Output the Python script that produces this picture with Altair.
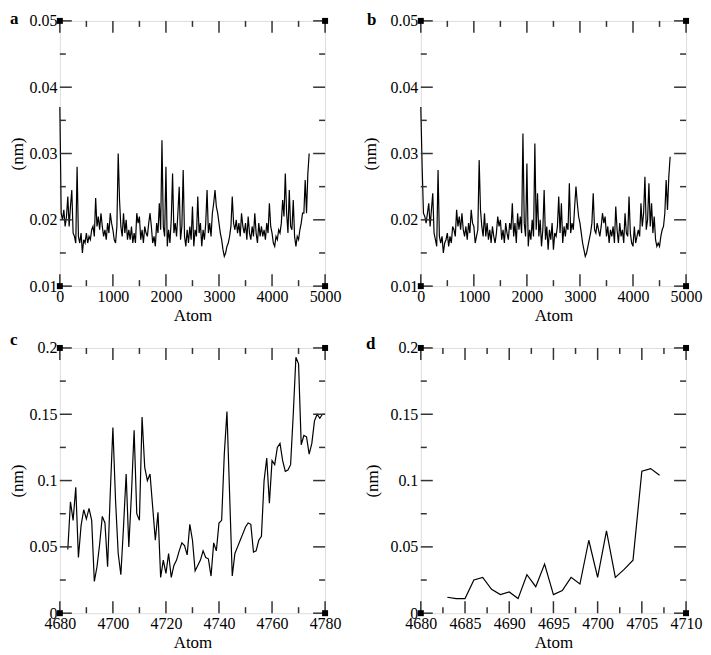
import altair as alt
import pandas as pd

# ---------------- data ----------------
# panels a and b: one value every 25 atoms, from atom 0 to 4700
A_Y = [
    0.037, 0.021, 0.020, 0.0215,  0.019, 0.0205, 0.0235, 0.019,
    0.022, 0.0245, 0.018, 0.0175,  0.0165, 0.028, 0.0175, 0.0165,
    0.018, 0.015, 0.017, 0.0165,  0.018, 0.0165, 0.0175, 0.017,
    0.0185, 0.019, 0.0175, 0.0233,  0.019, 0.0205, 0.0185, 0.021,
    0.019, 0.0175, 0.0185, 0.017,  0.0195, 0.018, 0.021, 0.0195,
    0.0185, 0.017, 0.0165, 0.019,  0.030, 0.023, 0.019, 0.0175,
    0.021, 0.018, 0.020, 0.017,  0.0185, 0.017, 0.019, 0.0165,
    0.018, 0.0165, 0.021, 0.0195,  0.0205, 0.017, 0.0185, 0.0165,
    0.019, 0.018, 0.0175, 0.0195,  0.021, 0.019, 0.0165, 0.0175,
    0.016, 0.0195, 0.018, 0.0225,  0.0185, 0.032, 0.019, 0.0175,
    0.028, 0.016, 0.0185, 0.0165,  0.020, 0.027, 0.018, 0.0195,
    0.0175, 0.021, 0.025, 0.017,  0.019, 0.0275, 0.0175, 0.016,
    0.0185, 0.0165, 0.019, 0.017,  0.022, 0.016, 0.0185, 0.0175,
    0.0235, 0.018, 0.0195, 0.016,  0.0185, 0.017, 0.0195, 0.0245,
    0.018, 0.0195, 0.0175, 0.021,  0.0225, 0.0245, 0.022, 0.021,
    0.0195, 0.018, 0.017, 0.0155,  0.0145, 0.015, 0.016, 0.0165,
    0.0175, 0.019, 0.0235, 0.0195,  0.0185, 0.020, 0.018, 0.0195,
    0.0175, 0.021, 0.019, 0.018,  0.0195, 0.017, 0.0205, 0.018,
    0.017, 0.019, 0.0175, 0.021,  0.018, 0.0165, 0.0195, 0.0175,
    0.019, 0.0175, 0.0185, 0.017,  0.0195, 0.018, 0.0225, 0.019,
    0.018, 0.0165, 0.016, 0.0175,  0.017, 0.0185, 0.018, 0.0195,
    0.023, 0.0205, 0.027, 0.021,  0.018, 0.0245, 0.019, 0.0185,
    0.023, 0.0175, 0.016, 0.0175,  0.017, 0.0185, 0.0195, 0.021,
    0.021, 0.026, 0.021, 0.027,  0.030,
]
B_Y = [
    0.037, 0.028, 0.021, 0.0205,  0.0195, 0.021, 0.0225, 0.019,
    0.0215, 0.024, 0.018, 0.017,  0.016, 0.0275, 0.0175, 0.0165,
    0.0175, 0.015, 0.0165, 0.017,  0.018, 0.016, 0.0175, 0.0165,
    0.019, 0.0185, 0.0175, 0.0215,  0.019, 0.0205, 0.0185, 0.021,
    0.0185, 0.0175, 0.019, 0.017,  0.0195, 0.018, 0.0215, 0.0195,
    0.019, 0.0165, 0.0175, 0.0185,  0.029, 0.0215, 0.019, 0.0175,
    0.021, 0.0175, 0.0195, 0.017,  0.0185, 0.0165, 0.019, 0.0175,
    0.0165, 0.018, 0.0205, 0.019,  0.020, 0.017, 0.0185, 0.0165,
    0.0195, 0.018, 0.017, 0.0195,  0.0185, 0.0225, 0.0175, 0.0195,
    0.0165, 0.021, 0.0185, 0.0205,  0.018, 0.033, 0.0195, 0.0175,
    0.0285, 0.016, 0.0185, 0.017,  0.020, 0.0175, 0.0315, 0.0185,
    0.024, 0.0175, 0.020, 0.016,  0.0185, 0.0245, 0.017, 0.019,
    0.0155, 0.0185, 0.017, 0.0195,  0.0155, 0.018, 0.0175, 0.019,
    0.0235, 0.018, 0.0225, 0.0165,  0.019, 0.0175, 0.0195, 0.0185,
    0.0255, 0.018, 0.0195, 0.0185,  0.022, 0.025, 0.0225, 0.0205,
    0.0195, 0.018, 0.0165, 0.0155,  0.0145, 0.015, 0.016, 0.017,
    0.018, 0.0195, 0.024, 0.0185,  0.018, 0.0195, 0.0185, 0.0175,
    0.019, 0.021, 0.0195, 0.0205,  0.0175, 0.019, 0.0165, 0.0185,
    0.0175, 0.019, 0.0165, 0.022,  0.0185, 0.0165, 0.0195, 0.0175,
    0.0185, 0.0165, 0.021, 0.018,  0.0175, 0.0235, 0.018, 0.0165,
    0.016, 0.019, 0.0165, 0.0175,  0.0185, 0.0175, 0.0225, 0.019,
    0.021, 0.0265, 0.0185, 0.020,  0.0255, 0.019, 0.0225, 0.018,
    0.0205, 0.017, 0.016, 0.0165,  0.016, 0.0175, 0.0185, 0.019,
    0.021, 0.026, 0.0215, 0.0265,  0.0295,
]
A_X = [25 * i for i in range(len(A_Y))]
B_X = [25 * i for i in range(len(B_Y))]

C_Y = [
    0.048, 0.084, 0.070, 0.095, 0.042, 0.066, 0.078, 0.071, 0.079, 0.070,
    0.024, 0.035, 0.052, 0.073, 0.068, 0.035, 0.090, 0.140, 0.085, 0.045,
    0.029, 0.065, 0.105, 0.050, 0.090, 0.138, 0.075, 0.070, 0.148, 0.110,
    0.100, 0.105, 0.080, 0.055, 0.076, 0.027, 0.040, 0.030, 0.045, 0.027,
    0.036, 0.040, 0.047, 0.053, 0.051, 0.044, 0.067, 0.055, 0.032, 0.036,
    0.040, 0.047, 0.042, 0.041, 0.028, 0.053, 0.047, 0.068, 0.070, 0.120,
    0.152, 0.090, 0.028, 0.045, 0.050, 0.055, 0.060, 0.065, 0.068, 0.067,
    0.046, 0.047, 0.055, 0.058, 0.100, 0.117, 0.083, 0.115, 0.112, 0.125,
    0.128, 0.115, 0.107, 0.108, 0.112, 0.150, 0.193, 0.188, 0.127, 0.134,
    0.133, 0.120, 0.128, 0.145, 0.150, 0.147, 0.150, 0.150,
]
C_X = [4683 + i for i in range(len(C_Y))]

D_Y = [
    0.012, 0.011, 0.011, 0.025, 0.027, 0.018, 0.014, 0.016, 0.011, 0.029,
    0.020, 0.037, 0.014, 0.017, 0.027, 0.022, 0.055, 0.027, 0.062, 0.027,
    0.033, 0.040, 0.107, 0.109, 0.104,
]
D_X = [4683 + i for i in range(len(D_Y))]

# axis tick values
AB_XMAJ = [0, 1000, 2000, 3000, 4000, 5000]
AB_XMIN = [500, 1500, 2500, 3500, 4500]
AB_YMAJ = [0.01, 0.02, 0.03, 0.04, 0.05]
AB_YMIN = [0.015, 0.025, 0.035, 0.045]
C_XMAJ = [4680, 4700, 4720, 4740, 4760, 4780]
C_XMIN = [4690, 4710, 4730, 4750, 4770]
D_XMAJ = [4680, 4685, 4690, 4695, 4700, 4705, 4710]
D_XMIN = [4682.5, 4687.5, 4692.5, 4697.5, 4702.5, 4707.5]
CD_YMAJ = [0, 0.05, 0.1, 0.15, 0.2]
CD_YMIN = [0.025, 0.075, 0.125, 0.175]

W = 266
H = 266
FONT = "Liberation Serif"
FS = 16
TICKC = "#333333"


def panel(xs, ys, xdom, ydom, xmaj, xmn, ymaj, ymn, letter, title_x,
          letter_x, letter_y):
    sx = alt.Scale(domain=xdom, nice=False, zero=False)
    sy = alt.Scale(domain=ydom, nice=False, zero=False)
    ax = alt.Axis(
        values=xmaj, format="d", title="Atom", grid=False, ticks=False,
        domain=False, labelFont=FONT, labelFontSize=FS, labelColor="black",
        labelPadding=2, labelFlush=False, labelOverlap=False,
        titleFont=FONT, titleFontSize=FS + 1, titleFontWeight="normal",
        titleColor="black", titlePadding=3)
    ay = alt.Axis(
        values=ymaj, format="~g", title="(nm)", grid=False, ticks=False,
        domain=False, labelFont=FONT, labelFontSize=FS, labelColor="black",
        labelPadding=3, labelFlush=False, labelOverlap=False,
        titleFont=FONT, titleFontSize=FS + 1, titleFontWeight="normal",
        titleColor="black", titleX=title_x, titleY=H / 2,
        titleAlign="center", titleBaseline="middle", titleAngle=-90)
    df = pd.DataFrame({"x": xs, "y": ys})
    line = alt.Chart(df).mark_line(color="black", strokeWidth=1.2).encode(
        x=alt.X("x:Q", scale=sx, axis=ax, title="Atom"),
        y=alt.Y("y:Q", scale=sy, axis=ay, title="(nm)"),
    )
    layers = [line]
    for vals, L in ((xmaj, 12), (xmn, 6)):
        d = pd.DataFrame({"x": vals})
        base = alt.Chart(d).mark_rule(color=TICKC, strokeWidth=1.5)
        layers.append(base.encode(x=alt.X("x:Q", scale=sx, axis=ax, title="Atom"),
                                  y=alt.value(H - L), y2=alt.value(H)))
        layers.append(base.encode(x=alt.X("x:Q", scale=sx, axis=ax, title="Atom"),
                                  y=alt.value(0), y2=alt.value(L)))
    for vals, L in ((ymaj, 12), (ymn, 6)):
        d = pd.DataFrame({"y": vals})
        base = alt.Chart(d).mark_rule(color=TICKC, strokeWidth=1.5)
        layers.append(base.encode(y=alt.Y("y:Q", scale=sy, axis=ay, title="(nm)"),
                                  x=alt.value(0), x2=alt.value(L)))
        layers.append(base.encode(y=alt.Y("y:Q", scale=sy, axis=ay, title="(nm)"),
                                  x=alt.value(W - L), x2=alt.value(W)))
    corners = pd.DataFrame({
        "x": [xdom[0], xdom[0], xdom[1], xdom[1]],
        "y": [ydom[0], ydom[1], ydom[0], ydom[1]],
    })
    layers.append(alt.Chart(corners).mark_square(
        size=36, color="black", filled=True, opacity=1).encode(
        x=alt.X("x:Q", scale=sx, axis=ax, title="Atom"),
        y=alt.Y("y:Q", scale=sy, axis=ay, title="(nm)")))
    lab = pd.DataFrame({"t": [letter]})
    layers.append(alt.Chart(lab).mark_text(
        font=FONT, fontSize=17, fontWeight="bold", color="black",
        align="left", baseline="top").encode(
        text="t:N", x=alt.value(letter_x), y=alt.value(letter_y)))
    return alt.layer(*layers).properties(width=W, height=H)


pa = panel(A_X, A_Y, [0, 5000], [0.01, 0.05], AB_XMAJ, AB_XMIN,
           AB_YMAJ, AB_YMIN, "a", -42, -50, -10)
pb = panel(B_X, B_Y, [0, 5000], [0.01, 0.05], AB_XMAJ, AB_XMIN,
           AB_YMAJ, AB_YMIN, "b", -50, -54, -9)
pc = panel(C_X, C_Y, [4680, 4780], [0, 0.2], C_XMAJ, C_XMIN,
           CD_YMAJ, CD_YMIN, "c", -42, -50, -16)
pd_ = panel(D_X, D_Y, [4680, 4710], [0, 0.2], D_XMAJ, D_XMIN,
            CD_YMAJ, CD_YMIN, "d", -48, -55, -12)

chart = alt.concat(pa, pb, pc, pd_, columns=2,
                   spacing={"row": 62, "column": 96}, bounds="flush").properties(
    padding=0
).configure_view(stroke="#333333", strokeWidth=1.6).configure(
    background="white")

chart.save("out.html", embed_options={"renderer": "svg", "actions": False})
